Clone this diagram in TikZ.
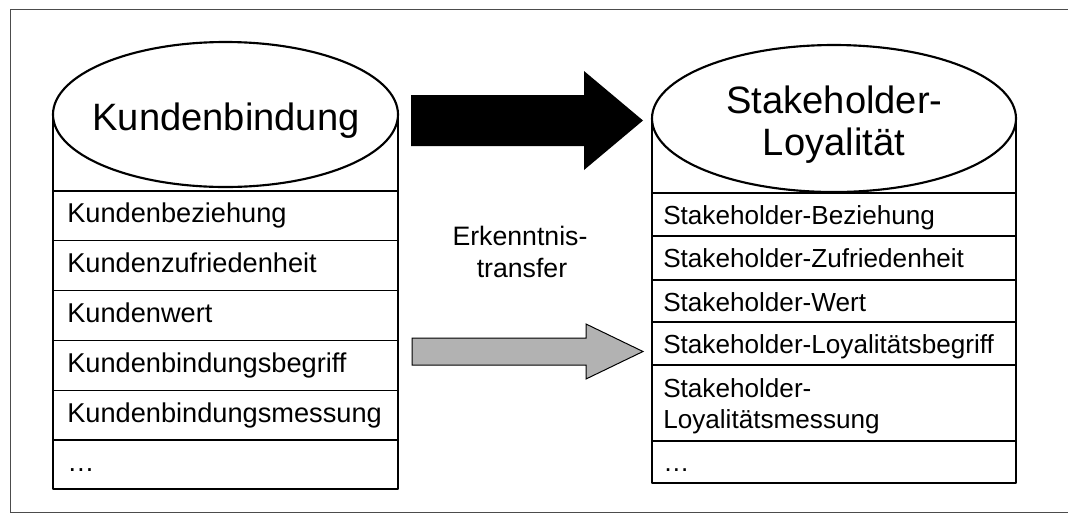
\documentclass[tikz,border=0pt]{standalone}
\usepackage{fontspec}
\setmainfont{Liberation Sans}
\begin{document}
\begin{tikzpicture}[x=0.75pt,y=-0.75pt,
  frame/.style={draw=black!70,line width=0.75pt},
  cyl/.style={draw=black,line width=1.6pt,fill=white,line join=round},
  sep/.style={draw=black,line width=1.2pt},
  title/.style={font=\fontsize{28.6}{31.5}\selectfont,anchor=base,inner sep=0pt},
  item/.style={font=\fontsize{20.4}{23.25}\selectfont,anchor=base west,inner sep=0pt},
  itemr/.style={font=\fontsize{19.6}{23.25}\selectfont,anchor=base west,inner sep=0pt},
  note/.style={font=\fontsize{20}{23.25}\selectfont,anchor=base,inner sep=0pt},
  blockarrow/.style={draw=black,line width=0.75pt,line join=miter}]
\useasboundingbox (0,0) rectangle (1068,515);

% outer frame, open to the right
\draw[frame] (1070,9) -- (10,9) -- (10,512) -- (1070,512);

% ---------- left cylinder: Kundenbindung ----------
\draw[cyl] (53,114.5) -- (53,489) -- (398,489) -- (398,114.5);
\draw[cyl] (225.5,114.5) ellipse [x radius=172.5, y radius=72.5];
\draw[black,line width=2.1pt] (53,489) -- (398,489);
\foreach \yy in {191,240.5,290.5,340.5,390.5,440}
  \draw[sep] (53,\yy) -- (398,\yy);
\node[title] (kb) at (226,130) {Kundenbindung};
\node[item] (k1) at (67,222) {Kundenbeziehung};
\node[item] (k2) at (67,272) {Kundenzufriedenheit};
\node[item] (k3) at (67,322) {Kundenwert};
\node[item] (k4) at (67,372) {Kundenbindungsbegriff};
\node[item] (k5) at (67,422) {Kundenbindungsmessung};
\node[item] (k6) at (67,471.5) {\dots};

% ---------- right cylinder: Stakeholder-Loyalität ----------
\draw[cyl] (652,118.5) -- (652,483) -- (1016,483) -- (1016,118.5);
\draw[cyl] (834,118.5) ellipse [x radius=182, y radius=73.5];
\draw[black,line width=2.1pt] (652,483) -- (1016,483);
\foreach \yy in {193,236,280,322,365,441}
  \draw[sep] (652,\yy) -- (1016,\yy);
\node[title] (sl1) at (834.5,113) {Stakeholder-};
\node[title] (sl2) at (834,155) {Loyalität};
\node[itemr] (s1) at (663,224) {Stakeholder-Beziehung};
\node[itemr] (s2) at (663,267) {Stakeholder-Zufriedenheit};
\node[itemr] (s3) at (663,311) {Stakeholder-Wert};
\node[itemr] (s4) at (663,353) {Stakeholder-Loyalitätsbegriff};
\node[itemr] (s5a) at (663,397) {Stakeholder-};
\node[itemr] (s5b) at (663,428) {Loyalitätsmessung};
\node[itemr] (s6) at (663,471.5) {\dots};

% ---------- transfer arrows ----------
\coordinate (bstart) at (411,120.5);
\coordinate (btip) at (643,120.5);
\fill[black] (bstart) ++(0,-25.5) -- (584,95) -- (584,71) -- (btip)
  -- (584,170) -- (584,146) -- (411,146) -- cycle;

\node[note] (e1) at (520,245) {Erkenntnis-};
\node[note] (e2) at (522,277) {transfer};

\coordinate (gstart) at (412,351.5);
\coordinate (gtip) at (643,351.5);
\draw[blockarrow,fill=black!30] (gstart) ++(0,-13.5) -- (586,338) -- (586,324) -- (gtip)
  -- (586,379) -- (586,365) -- (412,365) -- cycle;
\end{tikzpicture}
\end{document}
